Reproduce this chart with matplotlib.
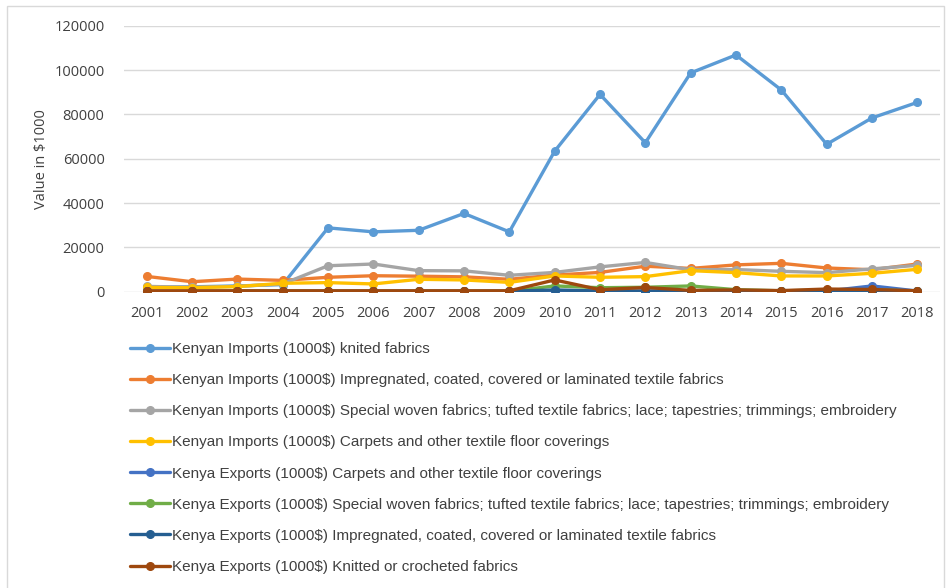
import matplotlib.pyplot as plt
from matplotlib.patches import Rectangle

years = [str(y) for y in range(2001, 2019)]

imp_knitted = [2000, 2200, 2600, 3200, 28800, 27000, 27700, 35300, 27000, 63400,
               89000, 67200, 98700, 106800, 91000, 66500, 78400, 85400]
imp_impregnated = [6900, 4500, 5700, 5100, 6500, 7200, 7000, 6700, 5600, 7500,
                   8700, 11500, 10500, 12100, 12800, 10700, 9900, 12500]
imp_special = [2400, 2000, 2400, 3500, 11700, 12500, 9500, 9400, 7400, 8700,
               11200, 13200, 9900, 10000, 9200, 8600, 10300, 11900]
imp_carpets = [1900, 1800, 2300, 3800, 4100, 3500, 5600, 5300, 4200, 7100,
               6500, 6800, 9500, 8600, 7100, 7100, 8300, 10100]
exp_carpets = [100, 0, 0, 100, 100, 100, 100, 100, 100, 300,
               200, 200, 200, 200, 200, 300, 2600, 300]
exp_special = [0, 100, 300, 300, 200, 200, 200, 200, 200, 2600,
               1800, 2000, 2600, 900, 400, 700, 900, 300]
exp_impregnated = [100, 100, 200, 200, 200, 200, 200, 200, 200, 800,
                   300, 300, 300, 300, 300, 300, 400, 300]
exp_knitted = [400, 400, 400, 400, 400, 400, 400, 400, 400, 5300,
               900, 1900, 600, 800, 500, 1200, 1000, 400]

series = [
    ("Kenyan Imports (1000$) knited fabrics", imp_knitted, "#5B9BD5"),
    ("Kenyan Imports (1000$) Impregnated, coated, covered or laminated textile fabrics", imp_impregnated, "#ED7D31"),
    ("Kenyan Imports (1000$) Special woven fabrics; tufted textile fabrics; lace; tapestries; trimmings; embroidery", imp_special, "#A5A5A5"),
    ("Kenyan Imports (1000$) Carpets and other textile floor coverings", imp_carpets, "#FFC000"),
    ("Kenya Exports (1000$) Carpets and other textile floor coverings", exp_carpets, "#4472C4"),
    ("Kenya Exports (1000$) Special woven fabrics; tufted textile fabrics; lace; tapestries; trimmings; embroidery", exp_special, "#70AD47"),
    ("Kenya Exports (1000$) Impregnated, coated, covered or laminated textile fabrics", exp_impregnated, "#255E91"),
    ("Kenya Exports (1000$) Knitted or crocheted fabrics", exp_knitted, "#9E480E"),
]

W, H = 949, 588
fig = plt.figure(figsize=(W / 100, H / 100), dpi=100)
# light chart-area frame
fig.patches.append(Rectangle((7 / W, -0.1), 937 / W, 1.1 - 6 / H, transform=fig.transFigure,
                             fill=False, edgecolor="#D9D9D9", linewidth=1))

ax = fig.add_axes([124 / W, 1 - 291.7 / H, 816 / W, (291.7 - 25.7) / H])
x = list(range(1, len(years) + 1))
handles = []
for label, vals, color in series:
    h, = ax.plot(x, vals, color=color, linewidth=2.4, marker="o", markersize=5.5,
                 label=label, solid_joinstyle="round", solid_capstyle="round")
    handles.append(h)

ax.set_xlim(0.5, len(years) + 0.5)
ax.set_ylim(0, 120000)
ax.set_yticks(range(0, 120001, 20000))
ax.set_xticks(x)
ax.set_xticklabels(years)
ax.grid(axis="y", color="#D9D9D9", linewidth=1)
ax.set_axisbelow(True)
for s in ax.spines.values():
    s.set_visible(False)
ax.tick_params(length=0, labelsize=10.5, labelcolor="#404040", pad=10)
ax.tick_params(axis="y", pad=14)
for t in ax.get_xticklabels() + ax.get_yticklabels():
    t.set_fontfamily("Open Sans")
ax.set_ylabel("Value in $1000", fontsize=10.5, color="#404040", family="Open Sans", labelpad=4)

leg = fig.legend(handles=handles, loc="upper left", bbox_to_anchor=(124 / W, 1 - 336 / H),
                 ncol=1, frameon=False, handlelength=2.6, handletextpad=0.15,
                 labelspacing=1.12, borderaxespad=0,
                 prop={"family": ["Liberation Sans Narrow", "Liberation Sans"], "size": 11})
for t in leg.get_texts():
    t.set_color("#404040")

fig.savefig("out.png", dpi=100)
